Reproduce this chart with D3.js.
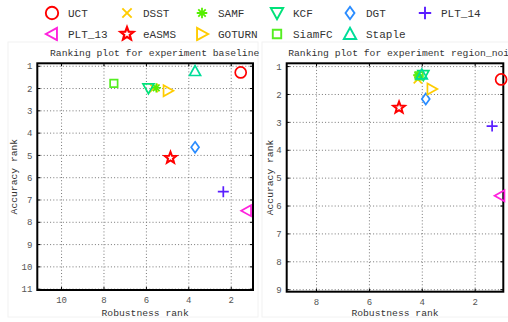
<!DOCTYPE html>
<html><head><meta charset="utf-8">
<script src="https://cdn.jsdelivr.net/npm/d3@7"></script>
<style>
body{margin:0;background:#fff;}
svg{display:block;}
text{font-family:"Liberation Mono","Courier New","DejaVu Sans Mono",monospace;}
</style></head>
<body><svg id="c" width="508" height="322"></svg>
<script>
const trackers = ["UCT","DSST","SAMF","KCF","DGT","PLT_14","PLT_13","eASMS","GOTURN","SiamFC","Staple"];
const colors   = ["#ff0000","#ffcc00","#55ee00","#00e27a","#2a8cff","#5a1eff","#ff22dd","#ff0000","#ffcc00","#55ee22","#00dd99"];
const symbols  = ["circle","x","asterisk","triDown","diamond","plus","triLeft","pentagram","triRight","square","triUp"];

const baselineRobustness = [1.53, 5.62, 5.51, 5.88, 3.68, 2.35, 1.25, 4.84, 4.96, 7.51, 3.68];
const baselineAccuracy   = [1.30, 2.00, 1.99, 2.01, 4.66, 6.65, 7.50, 5.13, 2.12, 1.79, 1.24];
const regionRobustness   = [1.00, 4.15, 4.15, 3.94, 3.85, 1.34, 1.04, 4.86, 3.62, 4.10, 4.00];
const regionAccuracy     = [1.48, 1.47, 1.32, 1.32, 2.18, 3.15, 5.65, 2.49, 1.82, 1.35, 1.30];

const baselineXTicks = [10, 8, 6, 4, 2];
const baselineYTicks = [1,2,3,4,5,6,7,8,9,10,11];
const regionXTicks = [8, 6, 4, 2];
const regionYTicks = [1,2,3,4,5,6,7,8,9];

const svg = d3.select("#c");

function markerPath(type, s){
  const p = d3.path();
  switch(type){
    case "circle": p.arc(0,0,s,0,2*Math.PI); break;
    case "x": p.moveTo(-s*0.75,-s*0.75);p.lineTo(s*0.75,s*0.75);p.moveTo(-s*0.75,s*0.75);p.lineTo(s*0.75,-s*0.75); break;
    case "plus": p.moveTo(-s,0);p.lineTo(s,0);p.moveTo(0,-s);p.lineTo(0,s); break;
    case "asterisk":
      for(let k=0;k<4;k++){const a=k*Math.PI/4; p.moveTo(-s*0.85*Math.cos(a),-s*0.85*Math.sin(a)); p.lineTo(s*0.85*Math.cos(a),s*0.85*Math.sin(a));}
      break;
    case "square": p.rect(-s*0.68,-s*0.68,s*1.36,s*1.36); break;
    case "diamond": p.moveTo(0,-s);p.lineTo(s*0.72,0);p.lineTo(0,s);p.lineTo(-s*0.72,0);p.closePath(); break;
    case "triUp": p.moveTo(0,-s);p.lineTo(s,s*0.8);p.lineTo(-s,s*0.8);p.closePath(); break;
    case "triDown": p.moveTo(0,s);p.lineTo(s,-s*0.8);p.lineTo(-s,-s*0.8);p.closePath(); break;
    case "triLeft": p.moveTo(-s,0);p.lineTo(s*0.8,-s);p.lineTo(s*0.8,s);p.closePath(); break;
    case "triRight": p.moveTo(s,0);p.lineTo(-s*0.8,-s);p.lineTo(-s*0.8,s);p.closePath(); break;
    case "pentagram": {
      const R=s*1.1, r=R*0.42;
      for(let k=0;k<10;k++){const a=-Math.PI/2+k*Math.PI/5; const rr=k%2?r:R; if(k===0)p.moveTo(rr*Math.cos(a),rr*Math.sin(a)); else p.lineTo(rr*Math.cos(a),rr*Math.sin(a));}
      p.closePath(); break;
    }
  }
  return p.toString();
}
function strokeW(type){ return type==="asterisk"?1.6:(type==="pentagram"?2:1.7); }

// legend
trackers.forEach((t,i)=>{
  const col = i%6, row = Math.floor(i/6);
  const cx = [52,127,202,277,350,425][col];
  const cy = row===0?13:34;
  svg.append("path").attr("d",markerPath(symbols[i],6.2))
    .attr("transform",`translate(${cx},${cy})`)
    .attr("fill","none").attr("stroke",colors[i]).attr("stroke-width",strokeW(symbols[i])+0.2);
  svg.append("text").attr("x",cx+16).attr("y",cy+4).attr("font-size",11).attr("fill","#333").text(t);
});

function panel(cfg){
  const g = svg.append("g");
  g.append("rect").attr("x",cfg.px).attr("y",42).attr("width",cfg.pw).attr("height",275)
    .attr("fill","none").attr("stroke","#f2f2f2");
  const x = d3.scaleLinear().domain(cfg.xd).range([cfg.x0,cfg.x1]);
  const y = d3.scaleLinear().domain(cfg.yd).range([cfg.y0,cfg.y1]);
  const w = cfg.x1-cfg.x0, h = cfg.y1-cfg.y0;
  // grid
  g.append("g").attr("transform",`translate(0,${cfg.y1})`)
    .call(d3.axisBottom(x).tickValues(cfg.xt).tickSize(-h).tickFormat(""))
    .call(a=>{a.select(".domain").remove(); a.selectAll("line").attr("stroke","#777").attr("stroke-dasharray","1,2.2");});
  g.append("g").attr("transform",`translate(${cfg.x0},0)`)
    .call(d3.axisLeft(y).tickValues(cfg.yt).tickSize(-w).tickFormat(""))
    .call(a=>{a.select(".domain").remove(); a.selectAll("line").attr("stroke","#777").attr("stroke-dasharray","1,2.2");});
  // axes with labels
  const ax = g.append("g").attr("transform",`translate(0,${cfg.y1})`)
    .call(d3.axisBottom(x).tickValues(cfg.xt).tickSizeInner(-3).tickSizeOuter(0).tickPadding(7));
  const ay = g.append("g").attr("transform",`translate(${cfg.x0},0)`)
    .call(d3.axisLeft(y).tickValues(cfg.yt).tickSizeInner(-3).tickSizeOuter(0).tickPadding(5));
  [ax,ay].forEach(a=>{a.select(".domain").remove(); a.selectAll("line").attr("stroke","#000");
    a.selectAll("text").attr("font-family",'"Liberation Mono",monospace').attr("font-size",9).attr("fill","#555");});
  ay.selectAll("text").attr("dy","0.35em");
  // top/right ticks
  g.append("g").attr("transform",`translate(0,${cfg.y0})`)
    .call(d3.axisTop(x).tickValues(cfg.xt).tickSizeInner(-3).tickSizeOuter(0).tickFormat(""))
    .call(a=>{a.select(".domain").remove();a.selectAll("line").attr("stroke","#000");});
  g.append("g").attr("transform",`translate(${cfg.x1},0)`)
    .call(d3.axisRight(y).tickValues(cfg.yt).tickSizeInner(-3).tickSizeOuter(0).tickFormat(""))
    .call(a=>{a.select(".domain").remove();a.selectAll("line").attr("stroke","#000");});
  g.append("rect").attr("x",cfg.x0).attr("y",cfg.y0).attr("width",w).attr("height",h)
    .attr("fill","none").attr("stroke","#000").attr("stroke-width",2);
  // title & labels
  g.append("text").attr("x",(cfg.x0+cfg.x1)/2+9.5).attr("y",56).attr("text-anchor","middle")
    .attr("font-size",9.7).attr("fill","#333").text(cfg.title);
  g.append("text").attr("x",(cfg.x0+cfg.x1)/2).attr("y",316).attr("text-anchor","middle")
    .attr("font-size",9.7).attr("fill","#333").text("Robustness rank");
  g.append("text").attr("transform",`translate(${cfg.ylx},${(cfg.y0+cfg.y1)/2}) rotate(-90)`)
    .attr("text-anchor","middle").attr("font-size",9.7).attr("fill","#333").text("Accuracy rank");
  // markers
  trackers.forEach((t,i)=>{
    g.append("path").attr("d",markerPath(symbols[i],5.5))
      .attr("transform",`translate(${x(cfg.xs[i])},${y(cfg.ys[i])})`)
      .attr("fill","none").attr("stroke",colors[i]).attr("stroke-width",strokeW(symbols[i]));
  });
}

panel({px:8,pw:250,x0:37.3,x1:253,y0:63.3,y1:290,xd:[11.12,0.95],yd:[0.89,11.06],
  xt:baselineXTicks,yt:baselineYTicks,xs:baselineRobustness,ys:baselineAccuracy,
  title:"Ranking plot for experiment baseline",ylx:17});
panel({px:262,pw:260,x0:286.7,x1:503.3,y0:63.3,y1:291.7,xd:[9.11,0.917],yd:[0.9,9.09],
  xt:regionXTicks,yt:regionYTicks,xs:regionRobustness,ys:regionAccuracy,
  title:"Ranking plot for experiment region_noise",ylx:272.5});
</script></body></html>
